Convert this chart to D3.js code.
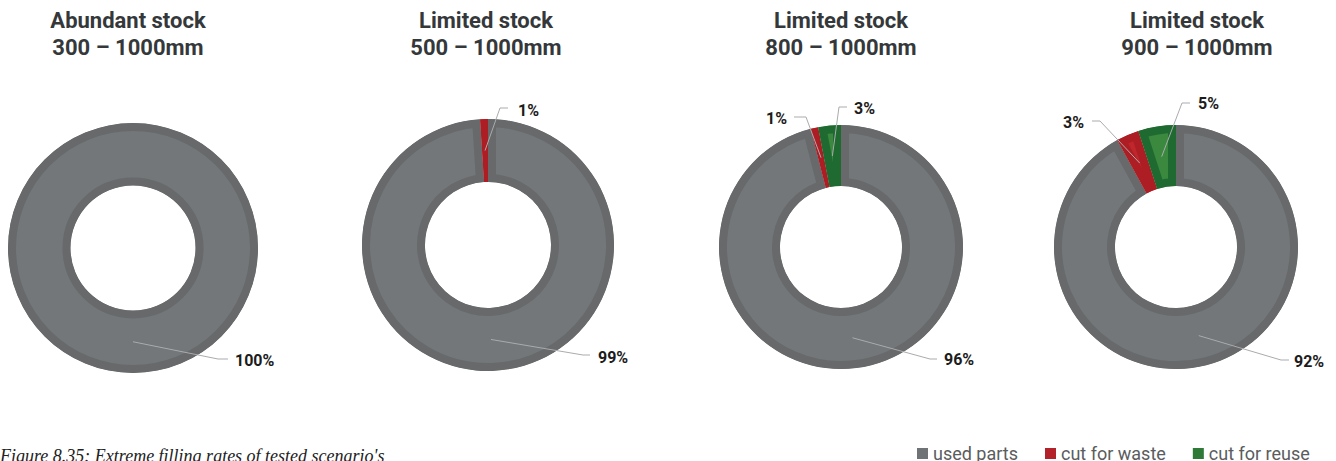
<!DOCTYPE html>
<html>
<head>
<meta charset="utf-8">
<script src="https://cdn.jsdelivr.net/npm/d3@7"></script>
<style>
  html, body { margin: 0; padding: 0; background: #fff; }
  svg { display: block; }
</style>
</head>
<body>
<svg id="chart" width="1336" height="461"></svg>
<script>
// ---- data ----
const titlesLine1 = ["Abundant stock", "Limited stock", "Limited stock", "Limited stock"];
const titlesLine2 = ["300 – 1000mm", "500 – 1000mm", "800 – 1000mm", "900 – 1000mm"];
const categories = ["used parts", "cut for waste", "cut for reuse"];
const usedParts = [100, 99, 96, 92];
const cutForWaste = [0, 1, 1, 3];
const cutForReuse = [0, 0, 3, 5];
const captionText = "Figure 8.35: Extreme filling rates of tested scenario's";

// ---- layout / style ----
const donutCX = [133, 488, 841, 1176];
const donutCY = [248, 245, 247, 247];
const donutR = [125, 126, 122, 122];
const titleCX = [128, 486, 841, 1197];
const fillColors = ["#737779", "#bf272d", "#3a893e"];
const borderColors = ["#67696a", "#ad1e24", "#1f6a31"];
const legendColors = ["#707375", "#b3222a", "#2e7a36"];
// label leader layout per donut, per category: elbow, end of horizontal, text anchor point (relative to centre)
const labelLayout = [
  [{elbow:[85,111], end:[95,111], text:[102,112], anchor:"start"}, null, null],
  [{elbow:[95,110], end:[102,110], text:[110,112], anchor:"start"},
   {elbow:[12,-137], end:[20,-137], text:[30,-135], anchor:"start"}, null],
  [{elbow:[89,112], end:[96,112], text:[103,112], anchor:"start"},
   {elbow:[-35,-130], end:[-47,-130], text:[-54,-129], anchor:"end"},
   {elbow:[-2,-140], end:[6,-140], text:[13,-139], anchor:"start"}],
  [{elbow:[105,113], end:[113,113], text:[118,114], anchor:"start"},
   {elbow:[-76,-126], end:[-84,-126], text:[-92,-125], anchor:"end"},
   {elbow:[6,-144], end:[14,-144], text:[22,-144], anchor:"start"}]
];

const svg = d3.select("#chart");
const defs = svg.append("defs");

const pie = d3.pie().sort(null).value(d => d.value).startAngle(0).endAngle(2 * Math.PI);

titlesLine1.forEach((t1, i) => {
  const data = categories.map((c, k) => ({
    cat: k,
    value: [usedParts, cutForWaste, cutForReuse][k][i]
  }));
  const R = donutR[i];
  const r = R * 0.5;
  const arc = d3.arc().innerRadius(r).outerRadius(R);
  const midArc = d3.arc().innerRadius((R + r) / 2).outerRadius((R + r) / 2);

  // titles
  const tg = svg.append("g").attr("transform", `translate(${titleCX[i]},0)`);
  [t1, titlesLine2[i]].forEach((t, li) => {
    tg.append("text").attr("x", 0).attr("y", 28 + li * 27).attr("text-anchor", "middle")
      .attr("font-family", "Roboto").attr("font-weight", 700).attr("font-size", 22)
      .attr("fill", "#35383a").text(t);
  });

  const g = svg.append("g").attr("transform", `translate(${donutCX[i]},${donutCY[i]})`);
  const arcs = pie(data).filter(d => d.data.value > 0);

  arcs.forEach(a => {
    const id = `clip-${i}-${a.data.cat}`;
    const p = arc(a);
    defs.append("clipPath").attr("id", id).append("path").attr("d", p);
    g.append("path")
      .attr("d", p)
      .attr("fill", fillColors[a.data.cat])
      .attr("stroke", borderColors[a.data.cat])
      .attr("stroke-width", 16)
      .attr("clip-path", `url(#${id})`);
  });

  // leader lines and labels
  arcs.forEach(a => {
    const L = labelLayout[i][a.data.cat];
    if (!L) return;
    const c = midArc.centroid(a);
    g.append("polyline")
      .attr("points", [c, L.elbow, L.end].map(p => p.join(",")).join(" "))
      .attr("fill", "none").attr("stroke", "#a9abad").attr("stroke-width", 1);
    g.append("text")
      .attr("x", L.text[0]).attr("y", L.text[1]).attr("dy", "0.36em")
      .attr("text-anchor", L.anchor)
      .attr("font-family", "Roboto").attr("font-weight", 700).attr("font-size", 16)
      .attr("fill", "#1c1c1c")
      .text(a.data.value + "%");
  });
});

// legend
const lg = svg.append("g").attr("transform", "translate(917,0)");
let lx = 0;
categories.forEach((c, k) => {
  lg.append("rect").attr("x", lx).attr("y", 448).attr("width", 11).attr("height", 11)
    .attr("fill", legendColors[k]);
  const t = lg.append("text").attr("x", lx + 16).attr("y", 459.5)
    .attr("font-family", "Roboto").attr("font-size", 18).attr("fill", "#5a5c5e")
    .text(c);
  lx += 16 + t.node().getComputedTextLength() + 27;
});

// caption
svg.append("text").attr("x", 0).attr("y", 462)
  .attr("font-family", "Liberation Serif").attr("font-style", "italic").attr("font-size", 18)
  .attr("fill", "#222").text(captionText);
</script>
</body>
</html>
